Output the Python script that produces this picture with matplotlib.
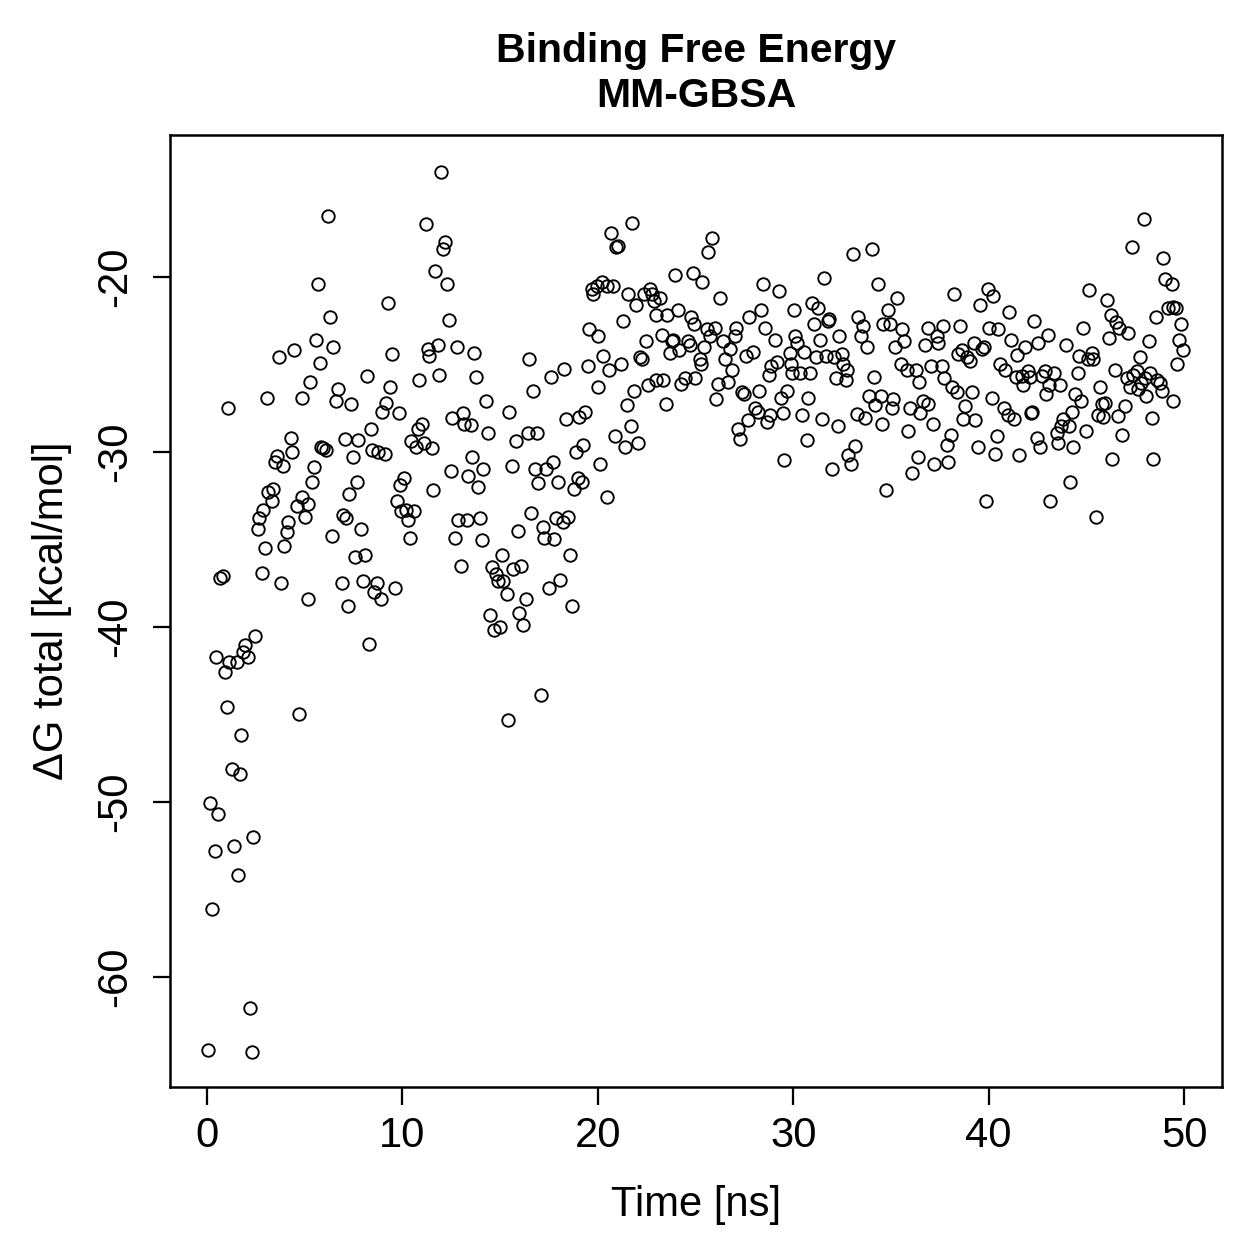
import matplotlib
matplotlib.use('Agg')
import matplotlib.pyplot as plt

plt.rcParams['font.family'] = ['Liberation Sans', 'DejaVu Sans']

# values (time in ns, dG total in kcal/mol)
time_ns = [
    0.07, 0.15, 0.27, 0.41, 0.49, 0.58, 0.67, 0.84, 0.92, 1.01, 1.09, 1.15, 1.26, 1.40, 1.52, 1.57, 1.69, 1.77,
    1.86, 1.94, 2.12, 2.20, 2.29, 2.37, 2.46, 2.59, 2.66, 2.80, 2.88, 2.97, 3.05, 3.14, 3.31, 3.40, 3.48, 3.57,
    3.70, 3.79, 3.90, 3.96, 4.08, 4.16, 4.30, 4.37, 4.45, 4.59, 4.70,
    4.85, 4.88, 5.00, 5.15, 5.19, 5.27, 5.36, 5.49, 5.58, 5.66, 5.78, 5.85, 5.95, 6.07, 6.18, 6.28, 6.38, 6.47,
    6.59, 6.69, 6.89, 6.98, 7.05, 7.10, 7.20, 7.27, 7.37, 7.49, 7.57, 7.66, 7.75, 7.88, 7.99, 8.08, 8.17, 8.29,
    8.39, 8.45, 8.56, 8.68, 8.73, 8.91, 8.97, 9.10, 9.14, 9.28, 9.37, 9.45, 9.62, 9.72,
    9.83, 9.88, 9.93, 10.10, 10.18, 10.30, 10.39, 10.44, 10.61, 10.68, 10.78, 10.87, 10.99, 11.12, 11.19, 11.29,
    11.38, 11.50, 11.59, 11.67, 11.80, 11.89, 11.98, 12.10, 12.18, 12.28, 12.39, 12.49, 12.55, 12.69, 12.78,
    12.86, 12.99, 13.08, 13.17, 13.29, 13.34, 13.51, 13.58, 13.68, 13.77, 13.85, 13.97, 14.09, 14.14, 14.26, 14.36,
    14.50, 14.60, 14.70, 14.80, 14.90, 15.00, 15.08, 15.17, 15.34, 15.39, 15.47, 15.59, 15.68, 15.81, 15.90,
    15.97, 16.07, 16.19, 16.31, 16.41, 16.50, 16.58, 16.70, 16.79, 16.87, 16.95, 17.09, 17.21, 17.26, 17.35,
    17.50, 17.60, 17.69, 17.77, 17.86, 17.95, 18.07, 18.20, 18.29, 18.37, 18.49, 18.58, 18.66, 18.80, 18.90,
    18.97, 19.05, 19.21, 19.26, 19.34, 19.48, 19.57, 19.69, 19.77,
    19.94, 20.00, 20.03, 20.10, 20.20, 20.28, 20.45, 20.49, 20.57, 20.68, 20.79, 20.88, 20.91, 21.02, 21.19,
    21.31, 21.39, 21.48, 21.56, 21.70, 21.77, 21.87, 21.94, 22.07, 22.16, 22.25, 22.38, 22.45, 22.55, 22.67,
    22.79, 22.89, 22.98, 23.00, 23.18, 23.27, 23.35, 23.47, 23.52, 23.69, 23.78, 23.86, 23.95, 24.09, 24.15,
    24.26, 24.46, 24.63, 24.70, 24.75, 24.85, 24.94, 24.97,
    25.23, 25.28, 25.35, 25.45, 25.57, 25.66, 25.74, 25.86, 26.00, 26.05, 26.14, 26.25, 26.42, 26.51, 26.68,
    26.77, 26.88, 27.00, 27.08, 27.16, 27.28, 27.36, 27.50, 27.58, 27.67, 27.74, 27.96, 28.04, 28.18, 28.25,
    28.35, 28.47, 28.56, 28.64, 28.76, 28.81, 28.86, 29.07, 29.15, 29.27, 29.37, 29.49, 29.54, 29.66, 29.84,
    29.90, 29.96, 30.06, 30.09, 30.18,
    30.35, 30.47, 30.57, 30.69, 30.77, 30.86, 30.95, 31.08, 31.16, 31.25, 31.37, 31.49, 31.59, 31.68, 31.76,
    31.83, 31.97, 32.10, 32.17, 32.27, 32.36, 32.48, 32.53, 32.69, 32.74, 32.82, 32.96, 33.08, 33.16, 33.25,
    33.33, 33.47, 33.59, 33.67, 33.76, 33.88, 34.05, 34.15, 34.19, 34.36, 34.49, 34.56, 34.61, 34.73, 34.87,
    34.95, 35.04, 35.12, 35.21, 35.30,
    35.52, 35.55, 35.69, 35.81, 35.86, 35.98, 36.06, 36.27, 36.37, 36.44, 36.49, 36.66, 36.75, 36.88, 36.91,
    37.05, 37.17, 37.22, 37.34, 37.43, 37.60, 37.68, 37.73, 37.86, 37.94, 38.06, 38.14, 38.25, 38.37, 38.42,
    38.54, 38.62, 38.70, 38.80, 38.88, 39.05, 39.13, 39.27, 39.30, 39.44, 39.56, 39.65, 39.78, 39.85, 39.95,
    40.02, 40.15, 40.24, 40.33, 40.41, 40.50,
    40.58, 40.80, 40.84, 40.97, 41.04, 41.15, 41.32, 41.38, 41.43, 41.56, 41.69, 41.77, 41.86, 41.99, 42.11,
    42.18, 42.23, 42.34, 42.46, 42.54, 42.63, 42.71, 42.88, 42.91, 43.06, 43.10, 43.14, 43.35, 43.48, 43.53,
    43.65, 43.70, 43.82, 43.94, 44.11, 44.16, 44.29, 44.33, 44.42, 44.56, 44.62, 44.73, 44.84, 44.97, 45.07,
    45.15, 45.27, 45.36, 45.48,
    45.62, 45.70, 45.79, 45.87, 45.96, 46.04, 46.16, 46.26, 46.33, 46.47, 46.50, 46.64, 46.67, 46.84, 46.98,
    47.07, 47.15, 47.24, 47.36, 47.41, 47.58, 47.66, 47.75, 47.80, 47.97, 48.00, 48.04, 48.18, 48.26, 48.34,
    48.43, 48.55, 48.60, 48.77, 48.89, 48.94, 49.03, 49.17, 49.37, 49.42, 49.45, 49.57, 49.62, 49.74, 49.85,
    49.96,
]

dG_total = [
    -64.2, -50.05, -56.1, -52.8, -41.7, -50.7, -37.2, -37.1, -42.6, -44.6, -27.5, -42.0, -48.1, -52.5, -42.0,
    -54.2, -48.4, -46.2, -41.45, -41.05, -41.7, -61.8, -64.3, -52.0, -40.5, -34.4, -33.8, -36.9, -33.3, -35.5,
    -26.9, -32.3, -32.8, -32.1, -30.6, -30.25, -24.6, -37.5, -30.8, -35.4, -34.6, -34.0, -29.2, -30.0, -24.2,
    -33.1, -45.0,
    -32.6, -26.9, -33.7, -33.0, -38.4, -26.0, -31.7, -30.85, -23.6, -20.4, -24.9, -29.7, -29.8, -29.9, -16.5,
    -22.3, -34.8, -24.0, -27.1, -26.4, -37.5, -33.6, -29.25, -33.8, -38.8, -32.4, -27.25, -30.3, -36.0, -31.7,
    -29.3, -34.4, -37.4, -35.9, -25.65, -41.0, -28.7, -29.9, -38.0, -37.5, -30.0, -38.4, -27.7, -30.1, -27.2,
    -21.5, -26.3, -24.4, -37.8, -32.8,
    -27.8, -31.9, -33.35, -31.5, -33.3, -33.9, -34.9, -29.4, -33.4, -29.7, -28.7, -25.9, -28.4, -29.5, -17.0,
    -24.1, -24.5, -29.8, -32.2, -19.66, -23.9, -25.6, -14.0, -18.4, -18.0, -20.4, -22.45, -31.1, -28.05, -34.9,
    -24.0, -33.9, -36.5, -27.8, -28.4, -33.9, -31.4, -28.45, -30.3, -24.35, -25.7, -32.0, -33.8, -35.05, -31.0,
    -27.1, -28.9,
    -39.3, -36.6, -40.2, -37.0, -37.4, -40.0, -35.9, -37.4, -38.1, -45.3, -27.7, -30.8, -36.7, -29.4, -34.5,
    -39.2, -36.5, -39.9, -38.4, -28.9, -24.7, -33.5, -26.5, -31.0, -28.9, -31.8, -43.9, -34.3, -34.9, -31.0,
    -37.8, -25.7, -30.6, -35.0, -33.8, -31.7, -37.3, -34.0, -25.24, -28.1, -33.7, -35.9, -38.8, -32.1, -30.0,
    -31.5, -28.0, -31.7, -29.6, -27.7, -25.1, -23.0, -20.7, -21.0,
    -20.5, -23.4, -26.3, -30.7, -20.3, -24.5, -20.5, -32.6, -25.3, -17.5, -20.5, -29.1, -18.3, -18.24, -25.0,
    -22.5, -29.7, -27.3, -21.0, -28.5, -16.9, -26.5, -21.6, -29.5, -24.6, -24.7, -21.0, -23.65, -26.2, -20.7,
    -21.0, -21.36, -22.2, -25.9, -21.2, -23.3, -25.9, -27.25, -22.2, -24.35, -23.65, -23.6, -19.9, -21.9, -24.2,
    -26.1, -25.8, -23.65, -23.9, -22.3, -19.8, -22.7, -25.8,
    -24.7, -25.0, -20.3, -24.0, -23.0, -18.6, -23.4, -17.8, -22.9, -27.0, -26.1, -21.2, -23.65, -24.7, -26.0,
    -24.1, -25.3, -23.4, -22.9, -28.7, -29.25, -26.6, -26.7, -24.5, -28.2, -22.3, -24.3, -27.5, -27.7, -26.5,
    -21.9, -20.4, -22.9, -28.3, -25.6, -27.9, -25.1, -23.6, -24.85, -20.8, -26.9, -27.8, -30.45, -26.5, -24.35,
    -25.0, -25.5, -21.9, -23.4, -23.8,
    -25.5, -27.9, -24.3, -29.3, -26.9, -25.5, -21.5, -22.7, -24.6, -21.8, -23.6, -28.1, -20.05, -24.5, -22.5,
    -22.4, -30.95, -24.6, -25.8, -28.5, -23.4, -24.4, -25.0, -25.9, -25.3, -30.2, -30.7, -18.7, -29.65, -27.86,
    -22.3, -23.4, -22.8, -28.05, -24.0, -26.8, -18.4, -25.7, -27.3, -20.4, -26.8, -28.4, -22.7, -32.15, -21.9,
    -22.7, -27.5, -27.0, -24.0, -21.2,
    -25.0, -22.95, -23.65, -25.3, -28.8, -27.5, -31.2, -25.3, -30.3, -26.0, -27.8, -27.1, -23.9, -22.9, -27.25,
    -25.1, -28.4, -30.7, -23.4, -23.8, -25.1, -22.8, -25.8, -29.6, -30.6, -29.05, -26.3, -21.0, -26.6, -24.4,
    -22.8, -24.2, -28.1, -27.4, -24.6, -24.8, -26.55, -23.8, -28.2, -29.7, -21.6, -24.1, -24.0, -32.8, -20.7,
    -22.9, -26.9, -21.1, -30.1, -29.1, -23.0,
    -25.0, -27.5, -25.3, -27.9, -22.0, -23.6, -28.1, -25.7, -24.45, -30.2, -25.65, -26.2, -24.0, -25.35, -25.7,
    -27.8, -27.7, -22.5, -29.2, -23.8, -29.7, -25.65, -25.35, -26.7, -23.3, -26.2, -32.8, -25.5, -28.9, -29.5,
    -26.2, -28.5, -28.1, -23.9, -28.5, -31.7, -27.7, -29.7, -26.7, -25.5, -24.5, -27.1, -22.9, -28.8, -24.7,
    -20.75, -24.35, -24.7, -33.7,
    -27.9, -26.3, -27.25, -28.0, -27.2, -21.3, -23.5, -22.2, -30.4, -25.3, -22.6, -27.97, -22.9, -29.06, -27.4,
    -25.8, -23.2, -26.3, -18.3, -25.6, -25.4, -26.4, -24.6, -26.05, -16.67, -25.8, -26.8, -23.65, -25.5, -28.05,
    -30.4, -22.3, -25.9, -26.05, -26.5, -18.9, -20.1, -21.8, -20.4, -21.7, -27.1, -21.8, -25.0, -23.6, -22.7,
    -24.2,
]

x_ticks = [0, 10, 20, 30, 40, 50]
y_ticks = [-60, -50, -40, -30, -20]

fig = plt.figure(figsize=(1259 / 180, 1259 / 180), dpi=180)
ax = fig.add_axes([0.135, 0.1366, 0.8356, 0.7562])

ax.plot(time_ns, dG_total, linestyle='none', marker='o', markersize=5.0,
        markerfacecolor='none', markeredgecolor='black', markeredgewidth=0.75)

ax.set_xlim(-1.89, 51.94)
ax.set_ylim(-66.29, -11.89)
ax.set_xticks(x_ticks)
ax.set_yticks(y_ticks)
ax.set_yticklabels([str(v) for v in y_ticks], rotation=90, va='center')

for side in ax.spines.values():
    side.set_linewidth(1.0)
ax.tick_params(direction='out', length=7.0, width=0.9, labelsize=16.7)
ax.tick_params(axis='x', pad=4.5)
ax.tick_params(axis='y', pad=7)

ax.set_xlabel('Time [ns]', fontsize=16.7, labelpad=11.5)
ax.set_ylabel('ΔG total [kcal/mol]', fontsize=16.7, labelpad=9)
ax.set_title('Binding Free Energy\nMM-GBSA', fontsize=16.4, fontweight='bold',
             linespacing=1.25, pad=11)

fig.savefig('out.png', dpi=180)
